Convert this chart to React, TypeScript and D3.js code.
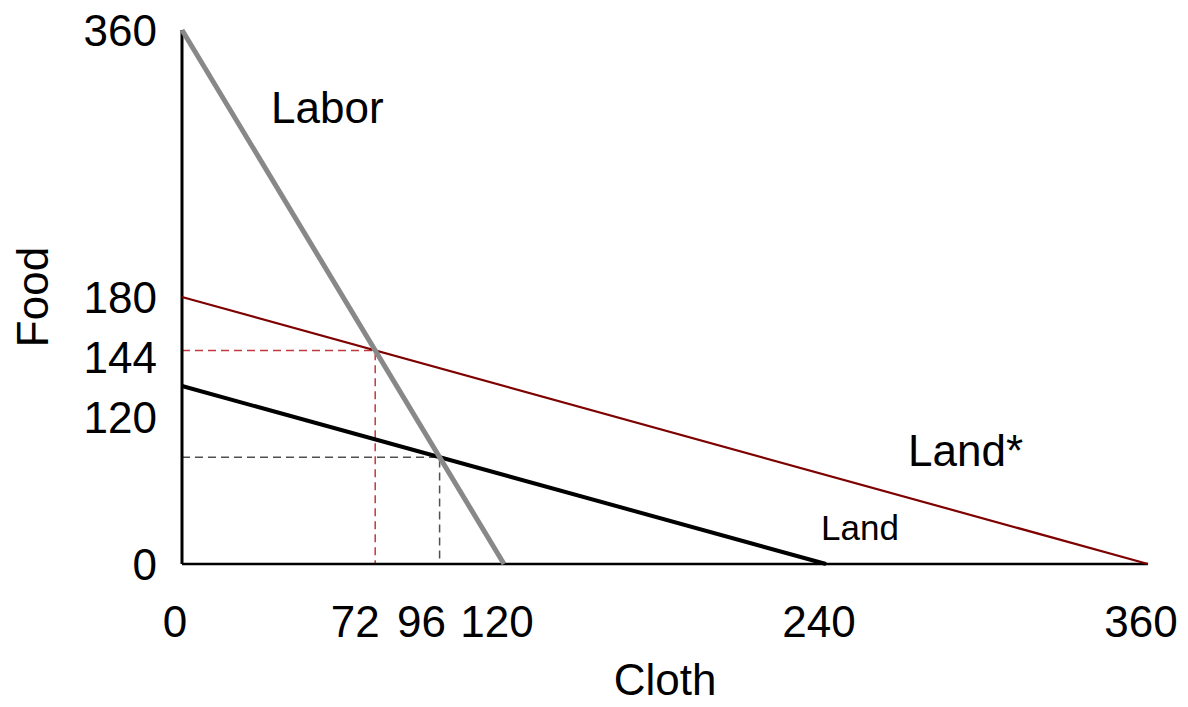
import React from "react";
import * as d3 from "d3";

type Seg = { name: string; x0: number; y0: number; x1: number; y1: number };

// frontier endpoints (cloth, food)
const laborLine: Seg = { name: "Labor", x0: 0, y0: 360, x1: 120, y1: 0 };
const landLine: Seg = { name: "Land", x0: 0, y0: 120, x1: 240, y1: 0 };
const landStarLine: Seg = { name: "Land*", x0: 0, y0: 180, x1: 360, y1: 0 };

// equilibrium points
const eqNew = { x: 72, y: 144 };
const eqOld = { x: 96, y: 72 };

const xTicks = [0, 72, 96, 120, 240, 360];
const yTicks = [0, 120, 144, 180, 360];

const App: React.FC = () => {
  const width = 1188;
  const height = 707;
  const x = d3.scaleLinear().domain([0, 360]).range([182, 1148]);
  const y = d3.scaleLinear().domain([0, 360]).range([564, 30]);
  const line = d3.line<[number, number]>().x((d) => x(d[0])).y((d) => y(d[1]));
  const seg = (s: Seg) => line([[s.x0, s.y0], [s.x1, s.y1]]) || "";

  // small nudges so crowded labels don't collide
  const xNudge: Record<number, number> = { 72: -13, 96: -11 };
  const yNudge: Record<number, number> = { 144: 7, 120: 31 };
  const font = "Liberation Sans, Arial, sans-serif";

  return (
    <svg
      width={width}
      height={height}
      style={{ position: "absolute", left: 0, top: 0, background: "#fff" }}
      fontFamily={font}
    >
      {/* guide lines */}
      <path
        d={line([[0, eqNew.y], [eqNew.x, eqNew.y], [eqNew.x, 0]]) || ""}
        fill="none"
        stroke="#c0393f"
        strokeWidth={1.5}
        strokeDasharray="8,5"
      />
      <path
        d={line([[0, eqOld.y], [eqOld.x, eqOld.y], [eqOld.x, 0]]) || ""}
        fill="none"
        stroke="#505050"
        strokeWidth={1.5}
        strokeDasharray="8,5"
      />

      {/* axes */}
      <line x1={x(0)} x2={x(0)} y1={y(360)} y2={y(0)} stroke="#000" strokeWidth={3} />
      <line x1={x(0)} x2={x(360)} y1={y(0)} y2={y(0)} stroke="#000" strokeWidth={2.5} />

      {/* frontiers */}
      <path d={seg(landStarLine)} stroke="#7f0000" strokeWidth={2.2} fill="none" />
      <path d={seg(landLine)} stroke="#000" strokeWidth={4} fill="none" />
      <path d={seg(laborLine)} stroke="#888" strokeWidth={5} fill="none" />

      {/* tick labels */}
      {yTicks.map((t) => (
        <text
          key={"y" + t}
          x={157}
          y={y(t) + 16 + (yNudge[t] || 0)}
          textAnchor="end"
          fontSize={44}
        >
          {t}
        </text>
      ))}
      {xTicks.map((t) => (
        <text
          key={"x" + t}
          x={x(t) - 7 + (xNudge[t] || 0)}
          y={637}
          textAnchor="middle"
          fontSize={44}
        >
          {t}
        </text>
      ))}

      {/* axis titles */}
      <text x={665} y={695} textAnchor="middle" fontSize={44}>
        Cloth
      </text>
      <text
        transform={`translate(48,${(y(0) + y(360)) / 2}) rotate(-90)`}
        textAnchor="middle"
        fontSize={44}
      >
        Food
      </text>

      {/* line labels */}
      <text x={271} y={123} fontSize={44}>
        {laborLine.name}
      </text>
      <text x={908} y={466} fontSize={44}>
        {landStarLine.name}
      </text>
      <text x={821} y={540} fontSize={35}>
        {landLine.name}
      </text>
    </svg>
  );
};

export default App;
